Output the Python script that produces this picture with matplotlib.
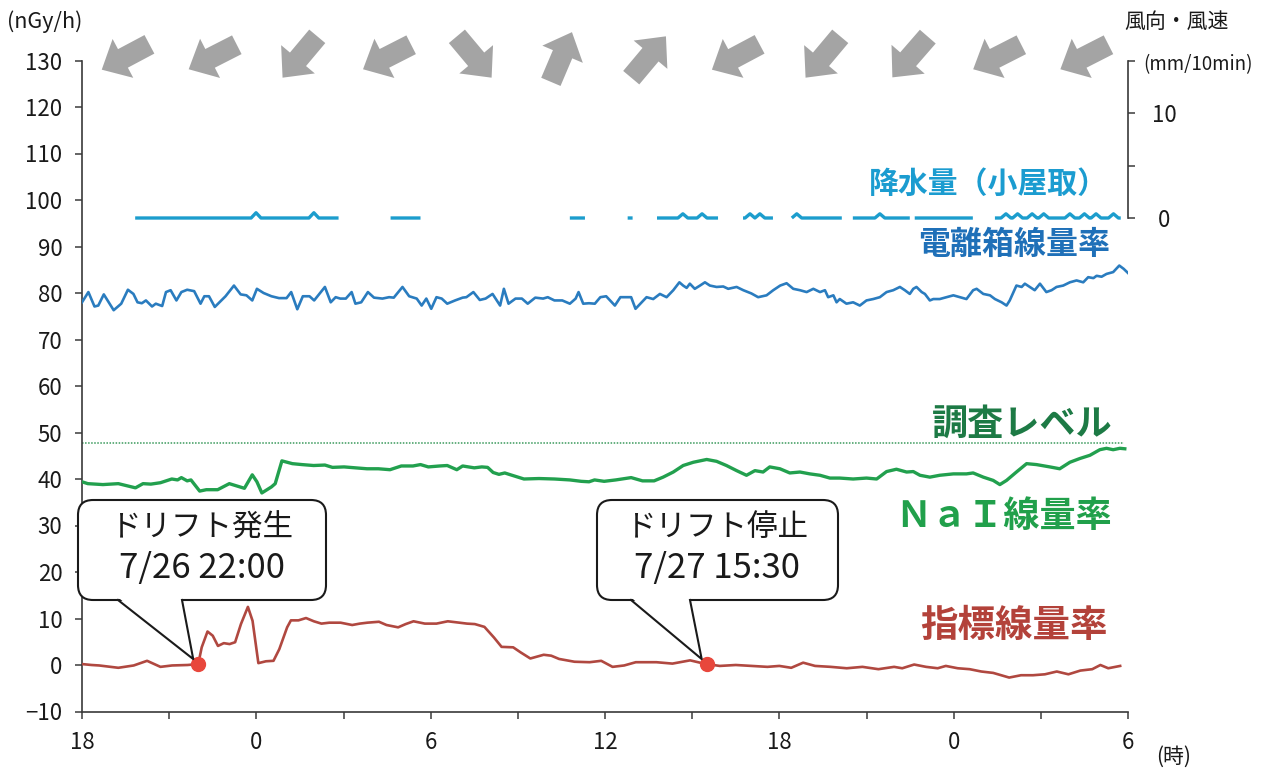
import numpy as np
import matplotlib
matplotlib.use('Agg')
import matplotlib.pyplot as plt
from matplotlib.patches import FancyBboxPatch, Polygon
from matplotlib.lines import Line2D
import matplotlib.transforms as mtransforms
from matplotlib import font_manager

plt.rcParams['font.family'] = ['Noto Sans CJK JP', 'DejaVu Sans']
_names = {f.name for f in font_manager.fontManager.ttflist}
NARROW = 'Liberation Sans Narrow' if 'Liberation Sans Narrow' in _names else 'Noto Sans CJK JP'
NARROW_FAM = [NARROW, 'Noto Sans CJK JP', 'DejaVu Sans']

# ---------------- data ----------------
# hours elapsed since 7/26 18:00
x_major = [0, 6, 12, 18, 24, 30, 36]
x_major_labels = ['18', '0', '6', '12', '18', '0', '6']
x_minor = [3, 9, 15, 21, 27, 33]
y_ticks = list(range(-10, 131, 10))
rain_ticks = [0, 5, 10, 15]
rain_ticklabels = ['0', '', '10', '']

# 電離箱線量率 (nGy/h)
ion_points = [(0.00,78.0),(0.22,80.2),(0.43,77.1),(0.56,77.3),(0.75,79.7),(1.09,76.3),(1.35,77.7),(1.58,80.7),
    (1.77,79.8),(1.91,78.0),(2.06,77.8),(2.20,78.4),(2.41,77.1),(2.54,77.7),(2.76,77.2),(2.89,80.2),(3.05,80.6),
    (3.25,78.4),(3.42,80.2),(3.62,80.7),(3.86,80.4),(4.08,77.7),(4.21,79.3),(4.37,79.3),(4.57,77.0),(4.94,79.3),
    (5.23,81.6),(5.46,79.7),(5.66,79.5),(5.86,78.4),(6.02,80.9),(6.25,80.0),(6.52,79.3),(6.78,78.9),(7.04,78.9),
    (7.20,80.2),(7.41,76.5),(7.60,79.3),(7.83,79.3),(7.99,78.4),(8.36,81.3),(8.56,78.0),(8.73,79.1),(8.89,78.8),
    (9.08,78.8),(9.28,80.2),(9.41,77.7),(9.61,78.0),(9.84,80.2),(10.05,79.0),(10.34,78.8),(10.57,79.1),(10.73,79.0),
    (11.03,81.3),(11.26,79.3),(11.52,78.8),(11.69,77.3),(11.85,78.8),(12.02,76.6),(12.20,79.1),(12.38,78.8),
    (12.57,77.7),(12.84,78.4),(13.10,79.0),(13.23,79.1),(13.47,80.2),(13.69,78.5),(13.89,78.8),(14.13,79.8),
    (14.39,77.3),(14.52,80.9),(14.68,77.7),(14.92,78.8),(15.14,78.8),(15.34,77.7),(15.60,79.0),(15.87,78.8),
    (16.03,79.1),(16.26,78.4),(16.53,78.4),(16.79,77.7),(16.99,78.8),(17.09,80.2),(17.25,77.7),(17.45,77.8),
    (17.65,77.7),(17.84,79.1),(18.04,79.3),(18.34,77.3),(18.53,79.1),(18.76,79.1),(18.90,79.1),(19.05,76.6),
    (19.43,79.1),(19.66,78.7),(19.89,79.8),(20.12,79.1),(20.35,80.6),(20.56,82.3),(20.69,81.6),(20.81,81.1),
    (20.92,82.0),(21.09,80.9),(21.27,81.6),(21.44,82.3),(21.61,81.6),(21.84,81.3),(22.07,81.4),(22.24,80.9),
    (22.53,81.3),(22.76,80.6),(23.04,79.9),(23.27,79.1),(23.56,79.5),(23.79,80.6),(24.03,81.6),(24.25,82.1),
    (24.48,80.9),(24.71,80.6),(24.94,80.2),(25.17,80.9),(25.40,80.2),(25.57,80.6),(25.68,79.1),(25.86,79.5),
    (25.97,78.0),(26.08,78.7),(26.31,77.7),(26.54,78.0),(26.77,77.3),(27.00,78.4),(27.23,78.7),(27.46,79.1),
    (27.69,80.2),(27.92,80.6),(28.15,81.3),(28.32,80.6),(28.49,79.8),(28.61,80.9),(28.72,81.3),(28.90,80.2),
    (29.01,79.8),(29.18,78.4),(29.30,78.7),(29.52,78.7),(29.75,79.1),(29.99,79.5),(30.21,79.1),(30.44,78.7),
    (30.67,80.6),(30.79,80.9),(31.02,79.8),(31.25,79.5),(31.42,78.7),(31.65,78.0),(31.82,77.3),(31.93,78.4),
    (32.16,81.6),(32.34,81.3),(32.45,82.0),(32.62,81.3),(32.79,80.6),(32.97,82.0),(33.19,80.2),(33.37,80.6),
    (33.54,81.3),(33.77,81.6),(34.00,82.3),(34.23,82.7),(34.46,82.3),(34.63,83.4),(34.81,83.2),(34.92,83.7),
    (35.09,83.5),(35.26,84.1),(35.49,84.5),(35.70,85.9),(35.85,85.2),(36.00,84.3)]

# NaI線量率 (nGy/h)
nai_points = [(0.0,39.4),(0.20,39.0),(0.72,38.8),(1.25,39.0),(1.84,38.1),(2.10,39.0),(2.37,38.9),(2.70,39.2),
    (3.09,40.0),(3.29,39.8),(3.42,40.3),(3.62,39.6),(3.75,39.8),(4.05,37.4),(4.28,37.7),(4.67,37.7),(5.07,39.0),
    (5.33,38.5),(5.59,38.0),(5.86,40.9),(6.02,39.4),(6.19,37.0),(6.52,38.3),(6.65,39.0),(6.88,43.9),(7.24,43.3),
    (7.57,43.1),(7.97,42.9),(8.36,43.0),(8.62,42.5),(9.02,42.6),(9.41,42.4),(9.81,42.2),(10.20,42.2),(10.60,42.0),
    (10.99,42.8),(11.39,42.8),(11.65,43.1),(11.92,42.6),(12.31,42.8),(12.57,42.9),(12.90,42.0),(13.10,42.8),
    (13.50,42.4),(13.76,42.6),(13.96,42.5),(14.15,41.4),(14.35,41.0),(14.55,41.3),(14.75,40.9),(15.21,40.0),
    (15.73,40.1),(16.26,40.0),(16.79,39.8),(17.18,39.5),(17.45,39.4),(17.64,39.8),(17.97,39.5),(18.37,39.8),
    (18.90,40.3),(19.29,39.6),(19.69,39.6),(20.00,40.4),(20.35,41.5),(20.69,42.9),(21.04,43.6),(21.50,44.2),
    (21.84,43.8),(22.18,42.9),(22.53,41.8),(22.87,40.8),(23.16,41.8),(23.44,41.5),(23.67,42.6),(24.02,42.2),
    (24.36,41.3),(24.71,41.5),(25.05,41.1),(25.40,40.8),(25.74,40.2),(26.08,40.2),(26.54,40.0),(27.00,40.2),
    (27.35,40.0),(27.69,41.6),(28.03,42.1),(28.38,41.5),(28.61,41.6),(28.84,40.8),(29.18,40.4),(29.52,40.8),
    (29.99,41.1),(30.44,41.1),(30.67,41.3),(31.02,40.4),(31.36,39.7),(31.59,38.8),(31.82,39.7),(32.16,41.5),
    (32.51,43.3),(32.85,43.1),(33.31,42.6),(33.65,42.2),(34.00,43.6),(34.34,44.4),(34.69,45.1),(35.03,46.3),
    (35.26,46.6),(35.49,46.3),(35.72,46.6),(35.89,46.5)]

# 指標線量率 (nGy/h)
index_points = [(0.00,0.2),(0.33,0.0),(0.59,-0.1),(1.25,-0.6),(1.78,-0.1),(2.24,0.9),(2.70,-0.4),(3.10,-0.1),
    (3.63,0.0),(4.00,0.2),(4.12,3.8),(4.32,7.2),(4.50,6.3),(4.68,4.1),(4.88,4.7),(5.08,4.5),(5.27,4.9),(5.47,8.8),
    (5.71,12.5),(5.87,9.5),(6.07,0.4),(6.33,0.8),(6.59,0.9),(6.79,3.4),(7.06,8.1),(7.19,9.6),(7.45,9.6),(7.71,10.1),
    (7.98,9.4),(8.24,8.9),(8.51,9.1),(8.90,9.1),(9.30,8.6),(9.56,8.9),(9.82,9.1),(10.22,9.3),(10.48,8.6),(10.88,8.1),
    (11.14,8.8),(11.41,9.4),(11.80,8.9),(12.20,8.9),(12.59,9.4),(12.99,9.1),(13.25,8.9),(13.52,8.8),(13.85,8.2),
    (14.18,5.9),(14.44,3.9),(14.84,3.8),(15.10,2.7),(15.43,1.4),(15.89,2.2),(16.15,2.0),(16.42,1.3),(16.95,0.7),
    (17.47,0.6),(17.87,0.9),(18.26,-0.4),(18.66,-0.1),(19.06,0.6),(19.77,0.6),(20.32,0.3),(20.93,1.0),(21.27,0.5),
    (21.50,0.2),(21.95,-0.2),(22.50,0.0),(23.05,-0.2),(23.59,-0.4),(24.00,-0.2),(24.41,-0.6),(24.82,0.5),
    (25.23,-0.2),(25.77,-0.4),(26.32,-0.7),(26.86,-0.4),(27.41,-0.9),(27.95,-0.4),(28.23,-0.7),(28.64,0.1),
    (29.05,-0.4),(29.45,-0.7),(29.73,-0.2),(30.14,-0.7),(30.55,-0.9),(30.95,-1.4),(31.36,-1.7),(31.91,-2.7),
    (32.32,-2.2),(32.73,-2.2),(33.14,-2.0),(33.55,-1.4),(33.95,-2.0),(34.36,-1.2),(34.77,-0.9),(35.05,0.0),
    (35.32,-0.7),(35.73,-0.2)]

survey_level = 47.8
survey_span = (0.0, 35.85)

# 降水量（小屋取） mm/10min: periods with data and the small peaks
rain_segments = [(1.83, 8.83), (10.62, 11.65), (16.79, 17.31), (18.78, 18.95), (19.79, 21.89),
                 (22.75, 23.78), (24.43, 26.15), (26.53, 28.49), (28.66, 30.66), (31.42, 35.75)]
rain_peaks = [(5.99, 0.5), (7.98, 0.5), (20.68, 0.4), (21.34, 0.4), (22.99, 0.4), (23.33, 0.4),
              (24.60, 0.4), (27.46, 0.4), (31.80, 0.4), (32.20, 0.4), (32.70, 0.4), (33.10, 0.4),
              (34.00, 0.4), (34.50, 0.4), (34.90, 0.4), (35.50, 0.4)]

# wind direction arrows (every 3 h), direction the arrow points, degrees (0 = east, ccw)
wind_times = [1.5, 4.5, 7.5, 10.5, 13.5, 16.5, 19.5, 22.5, 25.5, 28.5, 31.5, 34.5]
wind_dirs = [208, 207, 230, 207, 310, 67, 50, 208, 230, 229, 207, 207]

drift_times = [4.0, 21.5]
drift_values = [0.2, 0.2]
drift_titles = ['ドリフト発生', 'ドリフト停止']
drift_stamps = ['7/26 22:00', '7/27 15:30']

# ---------------- figure ----------------
W, H = 1262, 770
fig = plt.figure(figsize=(W / 100, H / 100), dpi=100)
fig.patch.set_facecolor('white')
ax_l, ax_r, ax_t, ax_b = 82, 1128, 60.5, 711.5
ax = fig.add_axes([ax_l / W, (H - ax_b) / H, (ax_r - ax_l) / W, (ax_b - ax_t) / H])
ax.set_xlim(0, 36)
ax.set_ylim(-10, 130)
ax.patch.set_alpha(0)

spine_c = '#3a3a3a'
text_c = '#1a1a1a'
for s in ['top', 'right']:
    ax.spines[s].set_visible(False)
for s in ['left', 'bottom']:
    ax.spines[s].set_color(spine_c)
    ax.spines[s].set_linewidth(1.2)

ax.set_xticks(x_major, x_major_labels)
ax.set_xticks(x_minor, minor=True)
ax.set_yticks(y_ticks)
ax.tick_params(axis='both', which='both', direction='out', length=5, width=1.1, color=spine_c,
               labelsize=16, labelcolor=text_c)
ax.tick_params(axis='x', pad=9)
ax.tick_params(axis='y', pad=9)
for lab in ax.get_xticklabels() + ax.get_yticklabels():
    lab.set_family(NARROW_FAM)

# series
it, iv = zip(*ion_points)
ax.plot(it, iv, color='#2a7cbf', lw=1.9, zorder=3)
nt, nv = zip(*nai_points)
ax.plot(nt, nv, color='#22a04e', lw=2.4, zorder=3)
xt, xv = zip(*index_points)
ax.plot(xt, xv, color='#b04840', lw=1.9, zorder=3)
ax.plot(list(survey_span), [survey_level, survey_level], color='#3a9a5c', lw=1.1,
        linestyle=(0, (1, 1)), zorder=2)
ax.plot(drift_times, drift_values, 'o', color='#e8473c', ms=10, zorder=6)

# rain on secondary axis
ax2 = ax.twinx()
ax2.set_ylim(-47, 15)
for s in ['top', 'left', 'bottom']:
    ax2.spines[s].set_visible(False)
ax2.spines['right'].set_bounds(0, 15)
ax2.spines['right'].set_color(spine_c)
ax2.spines['right'].set_linewidth(1.2)
ax2.set_yticks(rain_ticks, rain_ticklabels)
ax2.tick_params(axis='y', direction='out', length=5, width=1.1, color=spine_c,
                labelsize=16, labelcolor=text_c, pad=21)
for lab in ax2.get_yticklabels():
    lab.set_family(NARROW_FAM)
    lab.set_horizontalalignment('center')

rx, ry = [], []
for (s0, s1) in rain_segments:
    pts = [(s0, 0.0)]
    for (pt, pv) in rain_peaks:
        if s0 < pt < s1:
            pts += [(pt - 0.17, 0.0), (pt, pv), (pt + 0.17, 0.0)]
    pts.append((s1, 0.0))
    pts.sort()
    rx += [p[0] for p in pts] + [np.nan]
    ry += [p[1] for p in pts] + [np.nan]
ax2.plot(rx, ry, color='#1c9dcd', lw=2.4, zorder=3, solid_capstyle='butt')

# ---------------- wind arrows (pixel geometry) ----------------
ident = mtransforms.IdentityTransform()
arrow_shape = np.array([(-27, -10.5), (3, -10.5), (3, -22), (27, 0), (3, 22), (3, 10.5), (-27, 10.5)], float)
arrow_cy = H - 57
for t, d in zip(wind_times, wind_dirs):
    cx = ax.transData.transform((t, 0))[0]
    a = np.deg2rad(d)
    R = np.array([[np.cos(a), -np.sin(a)], [np.sin(a), np.cos(a)]])
    pts = arrow_shape @ R.T + np.array([cx, arrow_cy])
    fig.add_artist(Polygon(pts, closed=True, facecolor='#a4a4a4', edgecolor='none', transform=ident))

# ---------------- callout boxes ----------------
boxes = [(78, 500, 326, 600, 118, 182), (597, 500, 838, 600, 631, 690)]
for (x0, y0, x1, y1, b0, b1), t, v, t1, t2 in zip(boxes, drift_times, drift_values, drift_titles, drift_stamps):
    tipx, tipy = ax.transData.transform((t, v))
    tipx -= 5
    tipy += 5
    fig.add_artist(FancyBboxPatch((x0, H - y1), x1 - x0, y1 - y0,
                                  boxstyle='round,pad=0,rounding_size=15', facecolor='white',
                                  edgecolor=text_c, lw=1.5, transform=ident, zorder=4))
    fig.add_artist(Polygon([(b0 + 0.8, H - y1 + 2), (b1 - 0.8, H - y1 + 2), (tipx, tipy)], closed=True,
                           facecolor='white', edgecolor='none', transform=ident, zorder=4.1))
    fig.add_artist(Line2D([b0, tipx, b1], [H - y1, tipy, H - y1], color=text_c, lw=1.5,
                          transform=ident, zorder=4.2))
    cx = (x0 + x1) / 2
    fig.text(cx, H - 528, t1, transform=ident, ha='center', va='center',
             fontsize=22, color=text_c, zorder=5)
    fig.text(cx, H - 569, t2, transform=ident, ha='center', va='center',
             fontsize=25, color=text_c, zorder=5, family=NARROW_FAM)

# ---------------- series labels ----------------
def px(x, y):
    return x / W, (H - y) / H

labels = [('降水量（小屋取）', 1108, 184, 21.5, '#1b9cd0'),
          ('電離箱線量率', 1110, 245, 23, '#1f70b8'),
          ('調査レベル', 1113, 424, 26, '#1d7a45'),
          ('ＮａＩ線量率', 1112, 517, 26, '#21a04b'),
          ('指標線量率', 1108, 626, 27, '#b3423a')]
for s, x, y, fs, c in labels:
    fig.text(*px(x, y), s, ha='right', va='center', fontsize=fs, color=c, fontweight='bold')

fig.text(*px(7, 22), '(nGy/h)', ha='left', va='center', fontsize=15.5, color=text_c, family=NARROW_FAM)
fig.text(*px(1176, 22), '風向・風速', ha='center', va='center', fontsize=15, color=text_c)
fig.text(*px(1198, 65), '(mm/10min)', ha='center', va='center', fontsize=13.5, color=text_c, family=NARROW_FAM)
fig.text(*px(1174, 757), '(時)', ha='center', va='center', fontsize=15, color=text_c, family=NARROW_FAM)

fig.savefig('out.png', dpi=100)
